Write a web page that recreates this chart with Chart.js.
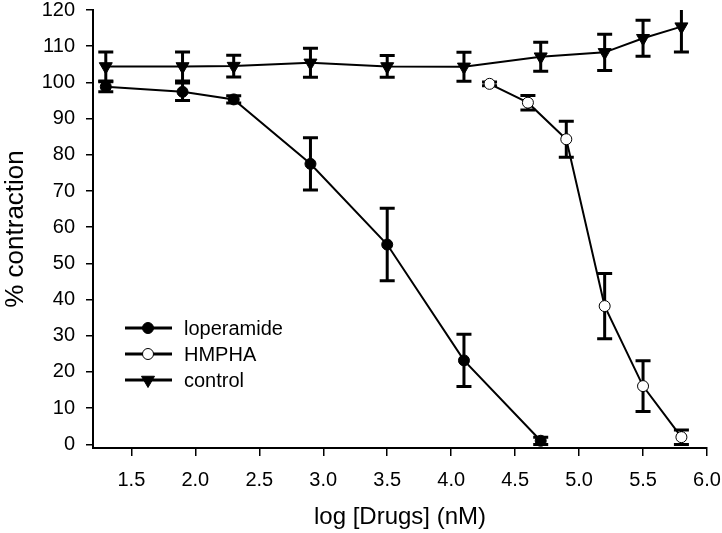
<!DOCTYPE html>
<html>
<head>
<meta charset="utf-8">
<script src="https://cdn.jsdelivr.net/npm/chart.js@4/dist/chart.umd.min.js"></script>
<style>
  body { margin: 0; background: #fff; }
  canvas { display: block; }
</style>
</head>
<body>
<canvas id="chart" width="722" height="533"></canvas>
<script>
// Data
const xTicks = [1.5, 2.0, 2.5, 3.0, 3.5, 4.0, 4.5, 5.0, 5.5, 6.0];
const yTicks = [0, 10, 20, 30, 40, 50, 60, 70, 80, 90, 100, 110, 120];

const loperamideX = [1.3, 1.9, 2.3, 2.9, 3.5, 4.1, 4.7];
const loperamideY = [98.8, 97.4, 95.3, 77.5, 55.2, 23.2, 1];
const loperamideErr = [1.4, 2.4, 1, 7.2, 10, 7.2, 1];

const hmphaX = [4.3, 4.6, 4.9, 5.2, 5.5, 5.8];
const hmphaY = [99.6, 94.4, 84.3, 38.2, 16.1, 2];
const hmphaErr = [0.5, 2, 5, 9, 7, 2];

const controlX = [1.3, 1.9, 2.3, 2.9, 3.5, 4.1, 4.7, 5.2, 5.5, 5.8];
const controlY = [104.4, 104.4, 104.5, 105.4, 104.4, 104.3, 107.1, 108.3, 112.2, 115.4];
const controlErr = [4, 4, 3, 4, 3, 4, 4, 5, 5, 7];

const FONT = '"Liberation Sans", Arial, sans-serif';

const toPoints = (xs, ys) => xs.map((x, i) => ({ x: x, y: ys[i] }));

// drop the label overhang padding so layout.padding alone sets the plot box
const noScalePadding = (scale) => {
    scale.paddingTop = 0;
    scale.paddingBottom = 0;
    scale.paddingLeft = 0;
    scale.paddingRight = 0;
};

// Error bars, drawn behind the markers
const errorBars = {
    id: 'errorBars',
    beforeDatasetsDraw(chart) {
        const ctx = chart.ctx;
        const xs = chart.scales.x;
        const ys = chart.scales.y;
        const area = chart.chartArea;
        ctx.save();
        ctx.beginPath();
        ctx.rect(area.left - 20, area.top, area.right - area.left + 40, area.bottom - area.top + 10);
        ctx.clip();
        ctx.strokeStyle = '#000';
        ctx.lineWidth = 3;
        chart.data.datasets.forEach(ds => {
            ds.data.forEach((p, i) => {
                const e = ds.errors[i];
                const px = xs.getPixelForValue(p.x);
                const top = ys.getPixelForValue(p.y + e);
                const bot = ys.getPixelForValue(p.y - e);
                ctx.beginPath();
                ctx.moveTo(px, top);
                ctx.lineTo(px, bot);
                if (top >= area.top) {
                    ctx.moveTo(px - 7.5, top);
                    ctx.lineTo(px + 7.5, top);
                }
                ctx.moveTo(px - 7.5, bot);
                ctx.lineTo(px + 7.5, bot);
                ctx.stroke();
            });
        });
        ctx.restore();
    }
};

// Legend inside the plot
const innerLegend = {
    id: 'innerLegend',
    afterDraw(chart) {
        const ctx = chart.ctx;
        const rows = [328, 354, 380];
        ctx.save();
        chart.data.datasets.forEach((ds, i) => {
            const y = rows[i];
            ctx.strokeStyle = '#000';
            ctx.lineWidth = 3;
            ctx.beginPath();
            ctx.moveTo(125, y);
            ctx.lineTo(172, y);
            ctx.stroke();
            ctx.fillStyle = ds.pointBackgroundColor;
            ctx.strokeStyle = '#000';
            ctx.lineWidth = 1;
            Chart.helpers.drawPoint(ctx, {
                pointStyle: ds.pointStyle,
                radius: ds.pointRadius,
                rotation: ds.pointRotation || 0,
                borderWidth: 1
            }, 148, y);
            ctx.fillStyle = '#000';
            ctx.font = '20px ' + FONT;
            ctx.textBaseline = 'middle';
            ctx.fillText(ds.label, 184, y + 1);
        });
        ctx.restore();
    }
};

new Chart(document.getElementById('chart'), {
    type: 'scatter',
    data: {
        datasets: [
            {
                label: 'loperamide',
                data: toPoints(loperamideX, loperamideY),
                errors: loperamideErr,
                showLine: true,
                borderColor: '#000',
                borderWidth: 2,
                pointStyle: 'circle',
                pointRadius: 5.5,
                pointBackgroundColor: '#000',
                pointBorderColor: '#000',
                pointBorderWidth: 1
            },
            {
                label: 'HMPHA',
                data: toPoints(hmphaX, hmphaY),
                errors: hmphaErr,
                showLine: true,
                borderColor: '#000',
                borderWidth: 2,
                pointStyle: 'circle',
                pointRadius: 5.5,
                pointBackgroundColor: '#fff',
                pointBorderColor: '#000',
                pointBorderWidth: 1
            },
            {
                label: 'control',
                data: toPoints(controlX, controlY),
                errors: controlErr,
                showLine: true,
                borderColor: '#000',
                borderWidth: 2,
                pointStyle: 'triangle',
                pointRotation: 180,
                pointRadius: 7.5,
                pointBackgroundColor: '#000',
                pointBorderColor: '#000',
                pointBorderWidth: 1
            }
        ]
    },
    options: {
        responsive: false,
        animation: false,
        layout: { padding: { top: 10, right: 15, left: 0, bottom: 0 } },
        plugins: {
            legend: { display: false },
            tooltip: { enabled: false }
        },
        scales: {
            x: {
                type: 'linear',
                min: 1.2,
                max: 6.0,
                afterBuildTicks: scale => { scale.ticks = xTicks.map(v => ({ value: v })); },
                afterFit: scale => { scale.height = 85; noScalePadding(scale); },
                ticks: {
                    color: '#000',
                    font: { family: FONT, size: 20 },
                    padding: 12,
                    maxRotation: 0,
                    callback: v => v.toFixed(1)
                },
                grid: { drawOnChartArea: false, drawTicks: true, tickLength: 8, color: '#000', lineWidth: 1.5 },
                border: { display: true, color: '#000', width: 2 },
                title: {
                    display: true,
                    text: 'log [Drugs] (nM)',
                    color: '#000',
                    font: { family: FONT, size: 24 },
                    padding: { top: 0, bottom: 1 }
                }
            },
            y: {
                min: -1,
                max: 120,
                afterBuildTicks: scale => { scale.ticks = yTicks.map(v => ({ value: v })); },
                afterFit: scale => { scale.width = 93; noScalePadding(scale); },
                ticks: {
                    color: '#000',
                    font: { family: FONT, size: 20 },
                    padding: 11
                },
                grid: { drawOnChartArea: false, drawTicks: true, tickLength: 7, color: '#000', lineWidth: 1.5 },
                border: { display: true, color: '#000', width: 2 },
                title: {
                    display: true,
                    text: '% contraction',
                    color: '#000',
                    font: { family: FONT, size: 26 },
                    padding: { top: 0, bottom: 0 }
                }
            }
        }
    },
    plugins: [errorBars, innerLegend]
});
</script>
</body>
</html>
